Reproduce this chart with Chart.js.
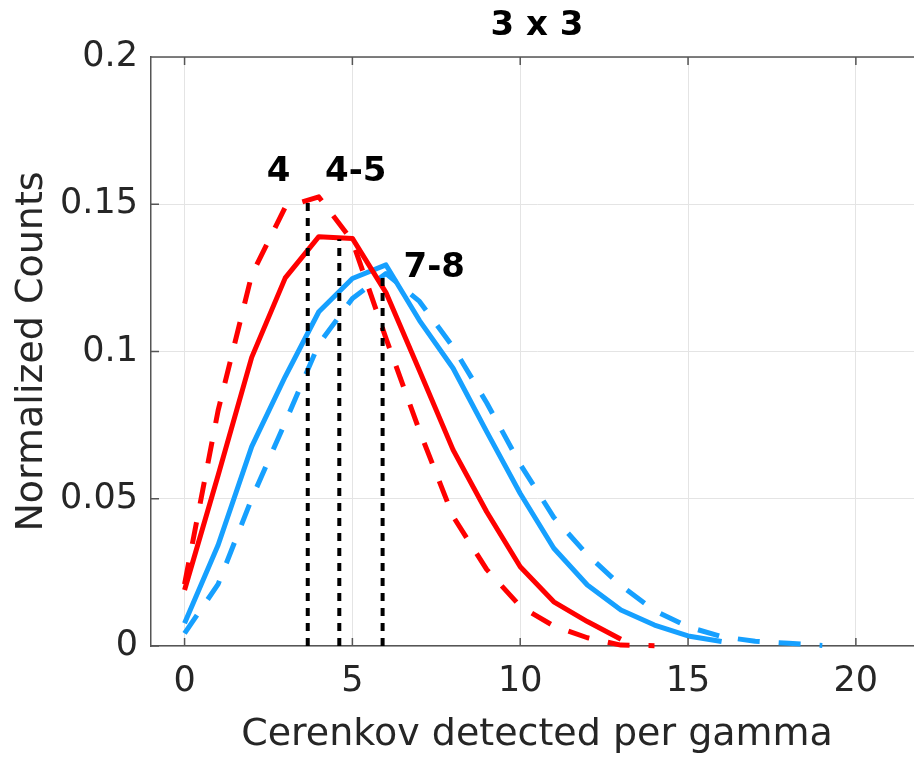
<!DOCTYPE html>
<html>
<head>
<meta charset="utf-8">
<script src="https://cdn.jsdelivr.net/npm/chart.js@4.4.1/dist/chart.umd.min.js"></script>
<style>
  html, body { margin: 0; padding: 0; background: #fff; overflow: hidden; }
  #wrap { width: 930px; height: 758px; }
</style>
</head>
<body>
<div id="wrap"><canvas id="c" width="930" height="758"></canvas></div>
<script>
// x = photons detected per gamma, y = normalized counts
var xRed = [0,1,2,3,4,5,6,7,8,9,10,11,12,13];
var redSolid = [0.019,0.058,0.098,0.125,0.139,0.1384,0.120,0.0935,0.0666,0.0456,0.0269,0.0150,0.0083,0.0023];

var xRedDash = [0,1,2,3,4,5,6,7,8,9,10,11,12,13,14];
var redDashed = [0.021,0.080,0.126,0.149,0.1525,0.1375,0.1045,0.073,0.044,0.026,0.0135,0.0068,0.0028,0.0003,0.0001];

var xBlue = [0,1,2,3,4,5,6,7,8,9,10,11,12,13,14,15,16];
var blueSolid = [0.0077,0.0343,0.0677,0.0915,0.1135,0.1248,0.1294,0.1105,0.0943,0.0728,0.0518,0.0332,0.0207,0.0122,0.0071,0.0034,0.0015];

var xBlueDash = [0,1,2,3,4,5,6,7,8,9,10,11,12,13,14,15,16,17,18,19];
var blueDashed = [0.0043,0.021,0.050,0.076,0.1025,0.118,0.1265,0.117,0.1015,0.0826,0.0617,0.0437,0.031,0.0205,0.012,0.0065,0.0032,0.0016,0.0009,0.0002];

// dotted peak markers and their labels
var markerX = [3.67, 4.61, 5.90];
var markerTop = [0.1528, 0.1381, 0.1271];
var peakLabels = ['4', '4-5', '7-8'];
var labelX = [2.80, 5.10, 7.44];
var labelY = [0.1608, 0.1608, 0.1282];

var xTicks = [0, 5, 10, 15, 20];
var yTicks = [0, 0.05, 0.1, 0.15, 0.2];
var yTickLabels = ['0', '0.05', '0.1', '0.15', '0.2'];

const FONT = '"DejaVu Sans", "Liberation Sans", sans-serif';
const RED = '#ff0000';
const BLUE = '#16a0ff';

function pts(xs, ys) {
  return xs.map((v, i) => ({x: v, y: ys[i]}));
}

function series(xs, ys, color, dash, order) {
  return {
    data: pts(xs, ys),
    borderColor: color,
    borderWidth: 5,
    borderDash: dash,
    borderJoinStyle: 'round',
    pointRadius: 0,
    clip: 8,
    order: order
  };
}

var datasets = [
  series(xRed, redSolid, RED, [], 1),
  series(xRedDash, redDashed, RED, [22, 19], 2),
  series(xBlue, blueSolid, BLUE, [], 3),
  series(xBlueDash, blueDashed, BLUE, [22, 19], 4)
];
markerX.forEach((mx, i) => {
  datasets.push({
    data: [{x: mx, y: 0}, {x: mx, y: markerTop[i]}],
    borderColor: '#000',
    borderWidth: 4,
    borderDash: [8, 7],
    pointRadius: 0,
    clip: 8,
    order: 0
  });
});

// box top edge, inward tick marks, peak labels
const frameAndLabels = {
  id: 'frameAndLabels',
  afterDatasetsDraw(chart) {
    const {ctx, chartArea: a, scales: {x, y}} = chart;
    ctx.save();
    ctx.strokeStyle = '#555';
    ctx.lineWidth = 1.5;
    ctx.beginPath();
    ctx.moveTo(a.left, a.top); ctx.lineTo(a.right, a.top);
    ctx.moveTo(a.right, a.top); ctx.lineTo(a.right, a.bottom);
    xTicks.forEach(v => {
      const px = x.getPixelForValue(v);
      ctx.moveTo(px, a.bottom); ctx.lineTo(px, a.bottom - 8);
      ctx.moveTo(px, a.top); ctx.lineTo(px, a.top + 8);
    });
    yTicks.forEach(v => {
      const py = y.getPixelForValue(v);
      ctx.moveTo(a.left, py); ctx.lineTo(a.left + 8, py);
    });
    ctx.stroke();

    ctx.fillStyle = '#000';
    ctx.font = 'bold 34px ' + FONT;
    ctx.textAlign = 'center';
    ctx.textBaseline = 'middle';
    peakLabels.forEach((t, i) => {
      ctx.fillText(t, x.getPixelForValue(labelX[i]), y.getPixelForValue(labelY[i]));
    });
    ctx.restore();
  }
};

new Chart(document.getElementById('c'), {
  type: 'line',
  data: {datasets: datasets},
  plugins: [frameAndLabels],
  options: {
    responsive: false,
    animation: false,
    layout: {padding: {left: 0, right: 7, top: 0, bottom: 0}},
    plugins: {
      legend: {display: false},
      tooltip: {enabled: false},
      title: {
        display: true,
        text: '3 x 3',
        fullSize: false,
        color: '#000',
        font: {family: FONT, size: 34, weight: 'bold'},
        padding: {top: 6, bottom: 10.2}
      }
    },
    elements: {line: {tension: 0}},
    scales: {
      x: {
        type: 'linear',
        min: -1,
        max: 22,
        afterBuildTicks: s => { s.ticks = xTicks.map(v => ({value: v})); },
        afterFit: s => { s.height = 112; },
        grid: {color: '#e4e4e4', lineWidth: 1, drawTicks: false},
        border: {display: true, color: '#555', width: 1.5},
        ticks: {color: '#262626', font: {family: FONT, size: 35}, padding: 15, maxRotation: 0},
        title: {
          display: true,
          text: 'Cerenkov detected per gamma',
          color: '#262626',
          font: {family: FONT, size: 38},
          padding: {top: 0, bottom: 0}
        }
      },
      y: {
        type: 'linear',
        min: 0,
        max: 0.2,
        afterBuildTicks: s => { s.ticks = yTicks.map(v => ({value: v})); },
        afterFit: s => { s.width = 151; },
        grid: {color: '#e4e4e4', lineWidth: 1, drawTicks: false},
        border: {display: true, color: '#555', width: 1.5},
        ticks: {
          color: '#262626',
          font: {family: FONT, size: 35},
          padding: 13,
          callback: v => yTickLabels[yTicks.indexOf(v)]
        },
        title: {
          display: true,
          text: 'Normalized Counts',
          color: '#262626',
          font: {family: FONT, size: 38},
          padding: {top: 9, bottom: 0}
        }
      }
    }
  }
});
</script>
</body>
</html>
